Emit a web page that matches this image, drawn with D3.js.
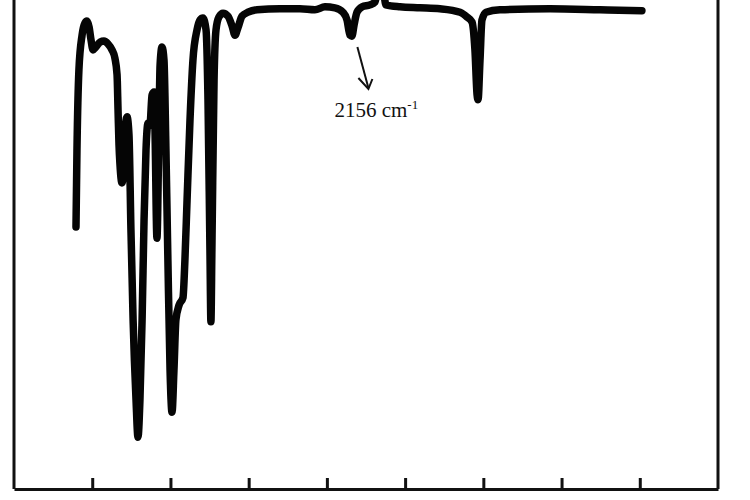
<!DOCTYPE html>
<html>
<head>
<meta charset="utf-8">
<script src="https://cdn.jsdelivr.net/npm/d3@7/dist/d3.min.js"></script>
<style>
  body { margin: 0; background: #fff; }
  svg { display: block; }
</style>
</head>
<body>
<script>
// IR spectrum (wavenumber in cm-1, transmittance in %)
var wavenumbers = [717, 722, 732, 748, 763, 773, 784, 794, 804, 819, 840, 860, 881, 901, 916, 927, 932, 937, 942, 952,
    962, 968, 978, 988, 998, 1009, 1024, 1034, 1044, 1055, 1065, 1075, 1085, 1095, 1106, 1116, 1121, 1131, 1141, 1147,
    1157, 1167, 1177, 1187, 1198, 1208, 1218, 1228, 1244, 1264, 1274, 1285, 1300, 1315, 1336, 1351, 1366, 1382, 1392, 1402,
    1407, 1412, 1423, 1433, 1448, 1469, 1494, 1515, 1530, 1545, 1566, 1597, 1643, 1760, 1862, 1939, 1990, 2041, 2082, 2103,
    2118, 2128, 2139, 2154, 2180, 2220, 2246, 2261, 2287, 2302, 2374, 2476, 2578, 2681, 2717, 2742, 2757, 2768, 2773, 2783,
    2793, 2814, 2885, 3141, 3397, 3611];
var transmittance = [53.6, 69.3, 85.7, 92.8, 95.3, 95.7, 94.5, 91.8, 89.8, 90.4, 91.4, 91.6, 91.0, 89.8, 88.1, 84.7, 77.5, 70.3, 66.3, 62.6,
    66.3, 73.4, 76.1, 72.4, 53.0, 34.6, 18.2, 10.6, 18.2, 34.6, 55.0, 69.3, 74.8, 74.4, 80.6, 81.2, 73.4, 51.3, 73.4, 86.7,
    90.4, 87.7, 69.3, 46.8, 24.3, 15.7, 24.3, 34.6, 37.6, 39.1, 46.8, 59.1, 75.5, 87.7, 93.9, 95.9, 96.3, 93.9, 79.6, 48.9,
    34.2, 48.9, 83.6, 93.9, 96.5, 97.3, 96.7, 94.7, 92.8, 94.3, 96.7, 97.5, 98.0, 98.2, 98.2, 98.0, 98.6, 98.4, 97.5, 95.9,
    92.8, 92.6, 94.9, 97.5, 98.6, 99.0, 99.6, 102.0, 102.0, 99.0, 98.6, 98.4, 98.2, 97.5, 96.5, 95.5, 89.8, 80.6, 79.6, 87.7,
    95.9, 97.5, 98.0, 98.2, 98.0, 97.8];
var tickValues = [800, 1200, 1600, 2000, 2400, 2800, 3200, 3600];
var peakLabel = 2156;

var w = 750;
var h = 500;
var left = 14, right = 718, bottom = 489;

var svg = d3.select("body").append("svg")
    .attr("width", w)
    .attr("height", h);

var x = d3.scaleLinear().domain([400, 4000]).range([left, right]);
var y = d3.scaleLinear().domain([0, 100]).range([bottom, 0]);

var data = wavenumbers.map(function(d, i) {
    return { w: d, t: transmittance[i] };
});

// frame: left and right sides run off the top of the picture
svg.append("line")
    .attr("x1", left).attr("x2", left)
    .attr("y1", -5).attr("y2", bottom)
    .attr("stroke", "#111").attr("stroke-width", 3);
svg.append("line")
    .attr("x1", right).attr("x2", right)
    .attr("y1", -5).attr("y2", bottom)
    .attr("stroke", "#111").attr("stroke-width", 3);

var xAxis = d3.axisBottom(x)
    .tickValues(tickValues)
    .tickSizeInner(-11)
    .tickSizeOuter(0)
    .tickFormat("");

var gx = svg.append("g")
    .attr("transform", "translate(0," + bottom + ")")
    .call(xAxis);
gx.select(".domain").attr("stroke", "#111").attr("stroke-width", 3);
gx.selectAll(".tick line").attr("stroke", "#111").attr("stroke-width", 3);

var line = d3.line()
    .x(function(d) { return x(d.w); })
    .y(function(d) { return y(d.t); })
    .curve(d3.curveMonotoneX);

svg.append("path")
    .datum(data)
    .attr("d", line)
    .attr("fill", "none")
    .attr("stroke", "#050505")
    .attr("stroke-width", 7.5)
    .attr("stroke-linejoin", "round")
    .attr("stroke-linecap", "round");

// annotation for the 2156 band
var ax = x(peakLabel);
svg.append("line")
    .attr("x1", ax).attr("y1", 47)
    .attr("x2", ax + 11).attr("y2", 88)
    .attr("stroke", "#111").attr("stroke-width", 2);
svg.append("path")
    .attr("d", "M" + (ax + 1) + ",78 L" + (ax + 11) + ",89 L" + (ax + 15) + ",79")
    .attr("fill", "none")
    .attr("stroke", "#111").attr("stroke-width", 2)
    .attr("stroke-linejoin", "miter");

var label = svg.append("text")
    .attr("x", ax - 23)
    .attr("y", 117)
    .attr("font-family", "'Liberation Serif', 'DejaVu Serif', serif")
    .attr("font-size", 21)
    .attr("fill", "#111");
label.append("tspan").text(peakLabel + " cm");
label.append("tspan")
    .attr("dy", -8)
    .attr("font-size", 13)
    .text("-1");
</script>
</body>
</html>
